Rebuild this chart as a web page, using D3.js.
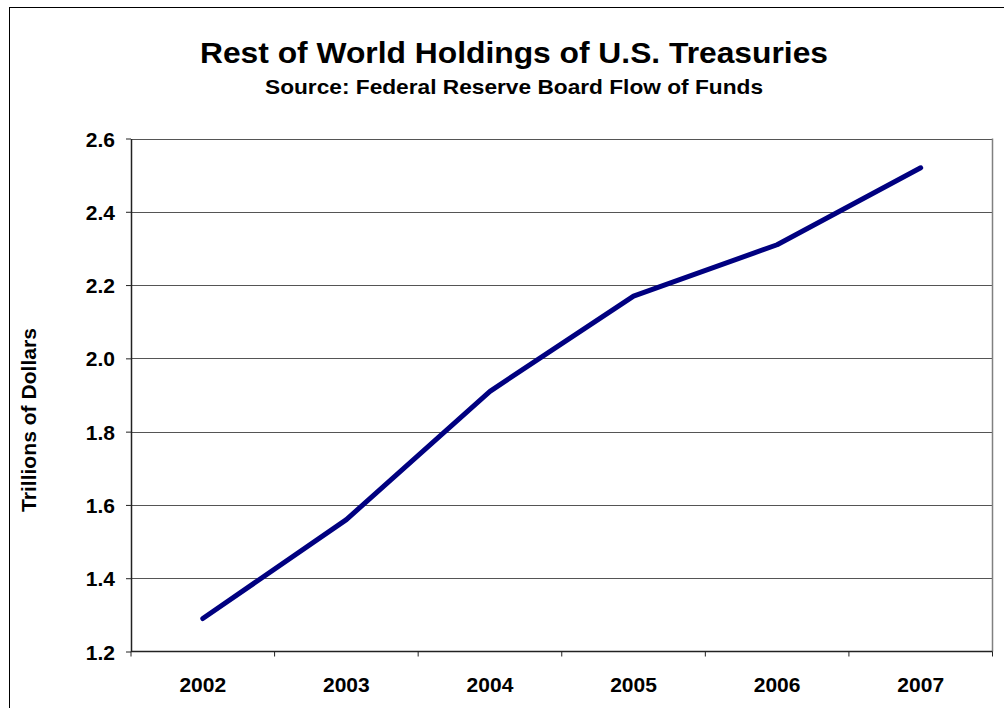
<!DOCTYPE html>
<html>
<head>
<meta charset="utf-8">
<script src="https://cdn.jsdelivr.net/npm/d3@7"></script>
<style>
  html, body { margin: 0; padding: 0; background: #fff; overflow: hidden; }
  svg { display: block; font-family: "Liberation Sans", Arial, sans-serif; }
</style>
</head>
<body>
<svg id="chart" width="1004" height="708"></svg>
<script>
// Rest of World holdings of U.S. Treasuries, trillions of dollars
const years = ["2002", "2003", "2004", "2005", "2006", "2007"];
const holdings = [1.29, 1.56, 1.91, 2.17, 2.31, 2.52];
const yTicks = [1.2, 1.4, 1.6, 1.8, 2.0, 2.2, 2.4, 2.6];

const titleText = "Rest of World Holdings of U.S. Treasuries";
const subtitleText = "Source: Federal Reserve Board Flow of Funds";
const yAxisTitle = "Trillions of Dollars";

const svg = d3.select("#chart");
const plot = { left: 131, right: 992.5, top: 138.5, bottom: 651.5 };

// outer chart frame (continues past the right and bottom edges)
svg.append("rect")
  .attr("x", 9.5).attr("y", 7.5)
  .attr("width", 1100).attr("height", 800)
  .attr("fill", "none").attr("stroke", "#000").attr("stroke-width", 1);

const x = d3.scaleBand().domain(years).range([plot.left, plot.right]).padding(0);
const y = d3.scaleLinear().domain([1.2, 2.6]).range([plot.bottom, plot.top]);

// horizontal gridlines
svg.append("g")
  .selectAll("line")
  .data(yTicks.slice(1))
  .join("line")
  .attr("x1", plot.left).attr("x2", plot.right)
  .attr("y1", d => Math.round(y(d)) + 0.5).attr("y2", d => Math.round(y(d)) + 0.5)
  .attr("stroke", "#555").attr("stroke-width", 1);

// right border of plot area
svg.append("line")
  .attr("x1", plot.right).attr("x2", plot.right)
  .attr("y1", plot.top).attr("y2", plot.bottom)
  .attr("stroke", "#808080").attr("stroke-width", 1.5);

// y axis
const yAxis = d3.axisLeft(y)
  .tickValues(yTicks)
  .tickFormat(d3.format(".1f"))
  .tickSizeInner(5).tickSizeOuter(0).tickPadding(11);
const gy = svg.append("g")
  .attr("transform", `translate(${plot.left},0)`)
  .call(yAxis);
gy.select(".domain").attr("stroke", "#222").attr("stroke-width", 1.5);
gy.selectAll(".tick line").attr("stroke", "#222").attr("stroke-width", 1);
gy.selectAll(".tick text")
  .attr("font-size", 21).attr("font-weight", "bold").attr("fill", "#000")
  .attr("font-family", "Liberation Sans, Arial, sans-serif")
  .attr("dy", "0.36em");

// x axis: ticks at category boundaries, labels at centers
const gx = svg.append("g")
  .attr("transform", `translate(0,${plot.bottom})`);
gx.append("line")
  .attr("x1", plot.left).attr("x2", plot.right)
  .attr("stroke", "#222").attr("stroke-width", 1.5);
const boundaries = years.map(d => x(d)).concat([x(years[years.length - 1]) + x.bandwidth()]);
gx.selectAll("line.tk")
  .data(boundaries)
  .join("line")
  .attr("class", "tk")
  .attr("x1", d => d).attr("x2", d => d)
  .attr("y1", 0).attr("y2", 5)
  .attr("stroke", "#222").attr("stroke-width", 1);
gx.selectAll("text")
  .data(years)
  .join("text")
  .attr("x", d => x(d) + x.bandwidth() / 2)
  .attr("y", 40)
  .attr("text-anchor", "middle")
  .attr("font-size", 21).attr("font-weight", "bold").attr("fill", "#000")
  .text(d => d);

// data line
const line = d3.line()
  .x((d, i) => x(years[i]) + x.bandwidth() / 2)
  .y(d => y(d));
svg.append("path")
  .datum(holdings)
  .attr("d", line)
  .attr("fill", "none")
  .attr("stroke", "#000080")
  .attr("stroke-width", 5)
  .attr("stroke-linejoin", "round")
  .attr("stroke-linecap", "round");

// titles
svg.append("text")
  .attr("x", 514).attr("y", 63)
  .attr("text-anchor", "middle")
  .attr("font-size", 30).attr("font-weight", "bold").attr("fill", "#000")
  .attr("textLength", 628).attr("lengthAdjust", "spacingAndGlyphs")
  .text(titleText);
svg.append("text")
  .attr("x", 514).attr("y", 94)
  .attr("text-anchor", "middle")
  .attr("font-size", 21).attr("font-weight", "bold").attr("fill", "#000")
  .attr("textLength", 498).attr("lengthAdjust", "spacingAndGlyphs")
  .text(subtitleText);

// y axis title
svg.append("text")
  .attr("transform", "translate(36,420) rotate(-90)")
  .attr("text-anchor", "middle")
  .attr("font-size", 21).attr("font-weight", "bold").attr("fill", "#000")
  .attr("textLength", 184).attr("lengthAdjust", "spacingAndGlyphs")
  .text(yAxisTitle);
</script>
</body>
</html>
